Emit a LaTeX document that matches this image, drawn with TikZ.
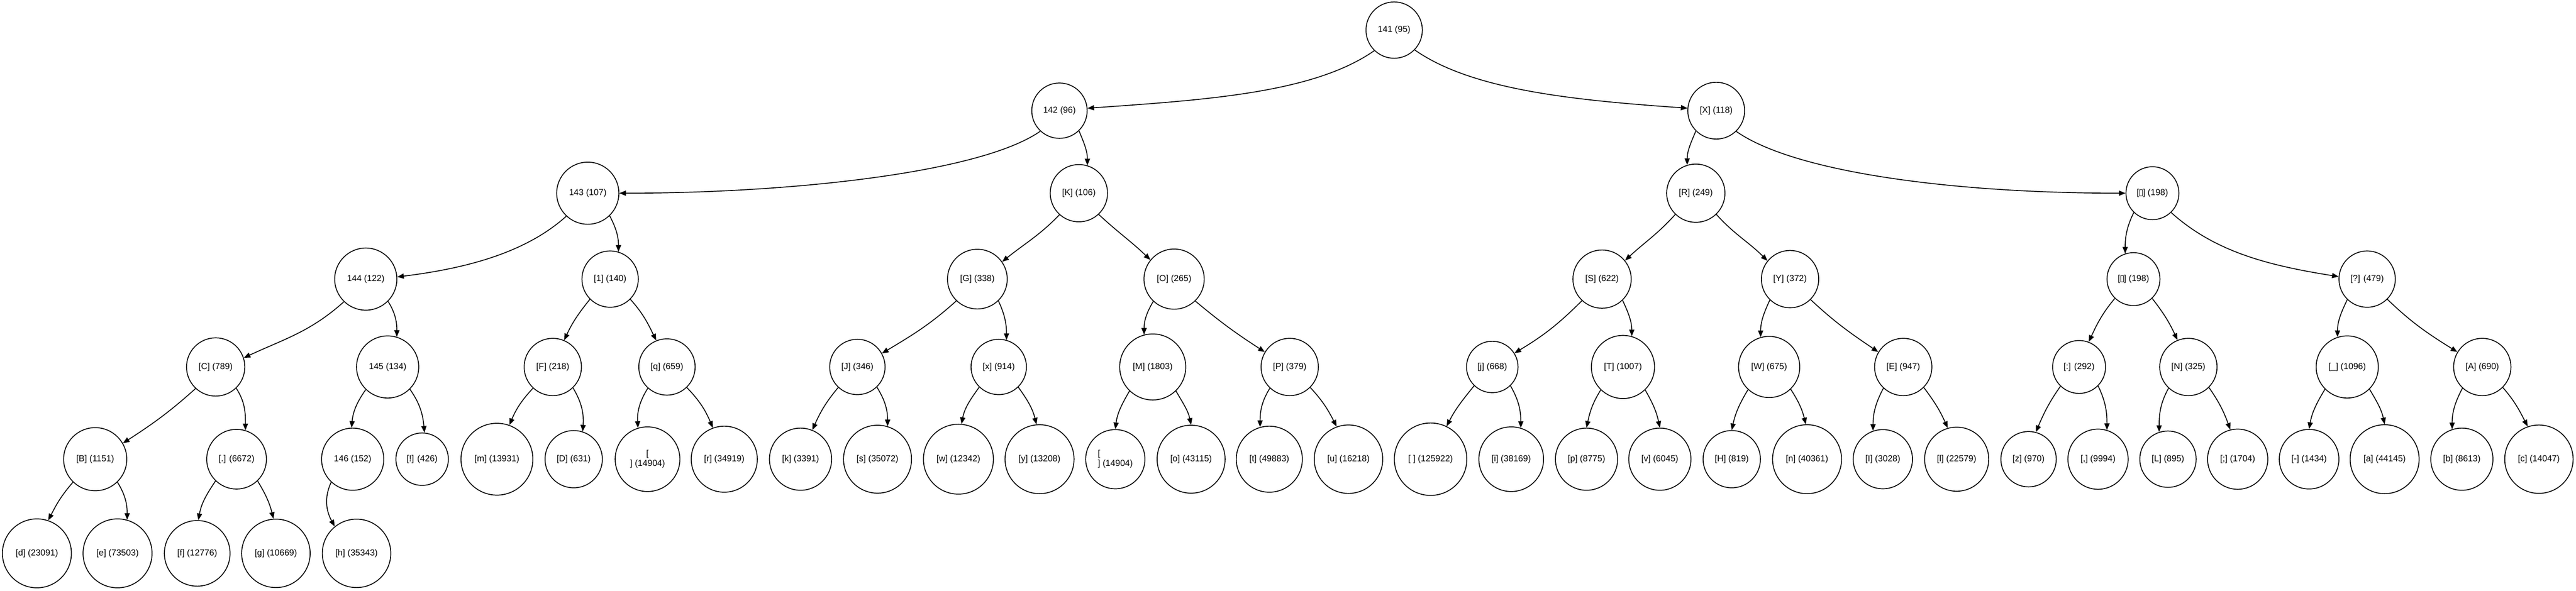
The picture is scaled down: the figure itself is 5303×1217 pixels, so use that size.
\documentclass[tikz,border=0pt]{standalone}
\usepackage{fontspec}
\setmainfont{Liberation Sans}
\newfontfamily\dejavu{DejaVu Sans}
\usetikzlibrary{arrows.meta}
\newcommand\tofuchar{{\dejavu\kern-0.6pt▯\kern-0.6pt}}
\begin{document}
\begin{tikzpicture}[x=0.5pt,y=-0.5pt,
  tn/.style={circle,draw,line width=0.9pt,inner sep=0pt,font=\fontsize{9}{10}\selectfont},
  ed/.style={draw,line width=0.9pt,-{Triangle[length=6.8pt,width=5.3pt]}}]
\fill[white] (0,0) rectangle (5303,1217);
\useasboundingbox (0,0) rectangle (5303,1217);
% level 0
\node[tn,minimum size=58pt] (root) at (2870,62) {141 (95)};
% level 1
\node[tn,minimum size=57pt] (n142) at (2181,228) {142 (96)};
\node[tn,minimum size=58.5pt] (nX) at (3533,228) {[X] (118)};
% level 2
\node[tn,minimum size=64pt] (n143) at (1210,398) {143 (107)};
\node[tn,minimum size=59pt] (nK) at (2221,398) {[K] (106)};
\node[tn,minimum size=60pt] (nR) at (3491,398) {[R] (249)};
\node[tn,minimum size=54.5pt] (nLB) at (4431,398) {[\tofuchar] (198)};
% level 3
\node[tn,minimum size=64pt] (n144) at (753,575) {144 (122)};
\node[tn,minimum size=58pt] (n1) at (1256,575) {[1] (140)};
\node[tn,minimum size=61.5pt] (nG) at (2012,575) {[G] (338)};
\node[tn,minimum size=62pt] (nO) at (2417,575) {[O] (265)};
\node[tn,minimum size=60pt] (nS) at (3298,575) {[S] (622)};
\node[tn,minimum size=59pt] (nY) at (3685,575) {[Y] (372)};
\node[tn,minimum size=54.5pt] (nRB) at (4392,575) {[\tofuchar] (198)};
\node[tn,minimum size=58pt] (nQ) at (4873,575) {[?] (479)};
% level 4
\node[tn,minimum size=60pt] (nC) at (444,756) {[C] (789)};
\node[tn,minimum size=64pt] (n145) at (798,756) {145 (134)};
\node[tn,minimum size=59pt] (nF) at (1138,756) {[F] (218)};
\node[tn,minimum size=58pt] (nq) at (1373,756) {[q] (659)};
\node[tn,minimum size=57pt] (nJ) at (1765,756) {[J] (346)};
\node[tn,minimum size=57pt] (nx) at (2056,756) {[x] (914)};
\node[tn,minimum size=68pt] (nM) at (2373,756) {[M] (1803)};
\node[tn,minimum size=59pt] (nP) at (2655,756) {[P] (379)};
\node[tn,minimum size=53pt] (nj) at (3072,756) {[j] (668)};
\node[tn,minimum size=65pt] (nT) at (3341,756) {[T] (1007)};
\node[tn,minimum size=63pt] (nW) at (3642,756) {[W] (675)};
\node[tn,minimum size=59pt] (nE) at (3918,756) {[E] (947)};
\node[tn,minimum size=54.5pt] (ncolon) at (4280,756) {[:] (292)};
\node[tn,minimum size=59pt] (nN) at (4505,756) {[N] (325)};
\node[tn,minimum size=64pt] (nus) at (4832,756) {[\_] (1096)};
\node[tn,minimum size=59pt] (nA) at (5110,756) {[A] (690)};
% level 5
\node[tn,minimum size=65pt] (nB) at (196,946) {[B] (1151)};
\node[tn,minimum size=61.5pt] (ndot) at (487,946) {[.] (6672)};
\node[tn,minimum size=64pt] (n146) at (726,946) {146 (152)};
\node[tn,minimum size=54pt] (nexcl) at (869,946) {[!] (426)};
\node[tn,minimum size=74pt] (nm) at (1023,946) {[m] (13931)};
\node[tn,minimum size=59pt] (nD) at (1181,946) {[D] (631)};
\node[tn,minimum size=66.6pt,align=center] (nnlA) at (1333,946) {[\\] (14904)};
\node[tn,minimum size=68pt] (nr) at (1491,946) {[r] (34919)};
\node[tn,minimum size=64pt] (nk) at (1648,946) {[k] (3391)};
\node[tn,minimum size=70pt] (ns) at (1806.5,946) {[s] (35072)};
\node[tn,minimum size=72pt] (nw) at (1973,946) {[w] (12342)};
\node[tn,minimum size=71pt] (ny) at (2140,946) {[y] (13208)};
\node[tn,minimum size=61pt,align=left] (nnlB) at (2296,946) {[\\] (14904)};
\node[tn,minimum size=70pt] (no) at (2452,946) {[o] (43115)};
\node[tn,minimum size=68pt] (nt) at (2613,946) {[t] (49883)};
\node[tn,minimum size=70.5pt] (nu) at (2776,946) {[u] (16218)};
\node[tn,minimum size=74.6pt] (nsp) at (2945,946) {[ ] (125922)};
\node[tn,minimum size=66.6pt] (ni) at (3111,946) {[i] (38169)};
\node[tn,minimum size=64pt] (np) at (3266,946) {[p] (8775)};
\node[tn,minimum size=64pt] (nv) at (3417,946) {[v] (6045)};
\node[tn,minimum size=59pt] (nH) at (3565,946) {[H] (819)};
\node[tn,minimum size=71pt] (nn) at (3720,946) {[n] (40361)};
\node[tn,minimum size=61pt] (nI) at (3876,946) {[I] (3028)};
\node[tn,minimum size=66pt] (nl) at (4028,946) {[l] (22579)};
\node[tn,minimum size=57pt] (nz) at (4176,946) {[z] (970)};
\node[tn,minimum size=62pt] (ncomma) at (4319,946) {[,] (9994)};
\node[tn,minimum size=58pt] (nL) at (4463,946) {[L] (895)};
\node[tn,minimum size=62pt] (nsemi) at (4606.5,946) {[;] (1704)};
\node[tn,minimum size=61.4pt] (nminus) at (4753.5,946) {[-] (1434)};
\node[tn,minimum size=71pt] (na) at (4909,946) {[a] (44145)};
\node[tn,minimum size=64pt] (nb) at (5068,946) {[b] (8613)};
\node[tn,minimum size=70.4pt] (nc) at (5226.6,946) {[c] (14047)};
% level 6
\node[tn,minimum size=71pt] (nd) at (76,1140) {[d] (23091)};
\node[tn,minimum size=71pt] (ne) at (242,1140) {[e] (73503)};
\node[tn,minimum size=67.6pt] (nf) at (406,1140) {[f] (12776)};
\node[tn,minimum size=70.5pt] (ng) at (568,1140) {[g] (10669)};
\node[tn,minimum size=70.5pt] (nh) at (734,1140) {[h] (35343)};
% edges
\draw[ed] (root.226) to[out=215,in=4,out looseness=0.64,in looseness=1.06] (n142.5);
\draw[ed] (root.-44) to[out=-35,in=176,out looseness=0.64,in looseness=1.06] (nX.175);
\draw[ed] (n142.227) to[out=215,in=0,out looseness=0.44,in looseness=1.02] (n143.0);
\draw[ed] (n142.-46) to[out=-67,in=90] (nK.73);
\draw[ed] (nX.225) to[out=247,in=90] (nR.107);
\draw[ed] (nX.-46) to[out=-35,in=180,out looseness=0.47,in looseness=1.1] (nLB.180);
\draw[ed] (n143.227) to[out=222,in=7,out looseness=0.75,in looseness=1.04] (n144.4);
\draw[ed] (n143.-46) to[out=-62,in=90] (n1.73);
\draw[ed] (nK.228) to[out=226,in=39] (nG.35);
\draw[ed] (nK.-47) to[out=-43,in=136] (nO.141);
\draw[ed] (nR.226) to[out=228,in=43] (nS.39);
\draw[ed] (nR.-46) to[out=-48,in=135] (nY.141);
\draw[ed] (nLB.226) to[out=244,in=90] (nRB.108);
\draw[ed] (nLB.-46) to[out=-42,in=171,out looseness=0.83,in looseness=1.04] (nQ.175);
\draw[ed] (n144.226) to[out=222,in=25] (nC.18);
\draw[ed] (n144.-45) to[out=-58,in=90] (n145.73);
\draw[ed] (n1.225) to[out=231,in=65] (nF.67);
\draw[ed] (n1.-45) to[out=-48,in=116] (nq.112);
\draw[ed] (nG.226) to[out=222,in=31] (nJ.29);
\draw[ed] (nG.-46) to[out=-65,in=90] (nx.74);
\draw[ed] (nO.227) to[out=239,in=90] (nM.105);
\draw[ed] (nO.-46) to[out=-40,in=147] (nP.149);
\draw[ed] (nS.227) to[out=225,in=31] (nj.32);
\draw[ed] (nS.-46) to[out=-65,in=90] (nT.74);
\draw[ed] (nY.226) to[out=245,in=90] (nW.106);
\draw[ed] (nY.-45) to[out=-43,in=146] (nE.149);
\draw[ed] (nRB.226) to[out=230,in=65] (ncolon.69);
\draw[ed] (nRB.-46) to[out=-52,in=115] (nN.112);
\draw[ed] (nQ.226) to[out=244,in=90] (nus.108);
\draw[ed] (nQ.-45) to[out=-44,in=148] (nA.149);
\draw[ed] (nC.227) to[out=222,in=33] (nB.30);
\draw[ed] (nC.-46) to[out=-57,in=90] (ndot.73);
\draw[ed] (n145.226) to[out=235,in=85] (n146.92);
\draw[ed] (n145.-45) to[out=-55,in=95] (nexcl.85);
\draw[ed] (nF.227) to[out=227,in=67] (nm.70);
\draw[ed] (nF.-46) to[out=-59,in=86] (nD.72);
\draw[ed] (nq.228) to[out=238,in=93] (nnlA.107);
\draw[ed] (nq.-46) to[out=-46,in=113] (nr.110);
\draw[ed] (nJ.227) to[out=230,in=66] (nk.68);
\draw[ed] (nJ.-46) to[out=-58,in=90] (ns.73);
\draw[ed] (nx.226) to[out=234,in=79] (nw.85);
\draw[ed] (nx.-46) to[out=-54,in=104] (ny.95);
\draw[ed] (nM.226) to[out=240,in=83] (nnlB.90);
\draw[ed] (nM.-46) to[out=-60,in=102] (no.90);
\draw[ed] (nP.227) to[out=238,in=90] (nt.106);
\draw[ed] (nP.-45) to[out=-47,in=117] (nu.110);
\draw[ed] (nj.226) to[out=231,in=63] (nsp.64);
\draw[ed] (nj.-46) to[out=-60,in=90] (ni.73);
\draw[ed] (nT.226) to[out=238,in=78] (np.90);
\draw[ed] (nT.-46) to[out=-60,in=102] (nv.90);
\draw[ed] (nW.227) to[out=239,in=78] (nH.90);
\draw[ed] (nW.-46) to[out=-57,in=104] (nn.92);
\draw[ed] (nE.227) to[out=242,in=90] (nI.109);
\draw[ed] (nE.-45) to[out=-53,in=114] (nl.106);
\draw[ed] (ncolon.226) to[out=235,in=67] (nz.75);
\draw[ed] (ncolon.-45) to[out=-64,in=90] (ncomma.73);
\draw[ed] (nN.227) to[out=241,in=90] (nL.108);
\draw[ed] (nN.-45) to[out=-55,in=110] (nsemi.104);
\draw[ed] (nus.225) to[out=239,in=80] (nminus.90);
\draw[ed] (nus.-45) to[out=-59,in=102] (na.90);
\draw[ed] (nA.227) to[out=242,in=90] (nb.108);
\draw[ed] (nA.-45) to[out=-49,in=117] (nc.109);
\draw[ed] (nB.226) to[out=229,in=63] (nd.71);
\draw[ed] (nB.-46) to[out=-58,in=90] (ne.74);
\draw[ed] (ndot.226) to[out=236,in=80] (nf.88);
\draw[ed] (ndot.-46) to[out=-59,in=104] (ng.94);
\draw[ed] (n146.227) to[out=245,in=119] (nh.129);
\end{tikzpicture}
\end{document}
